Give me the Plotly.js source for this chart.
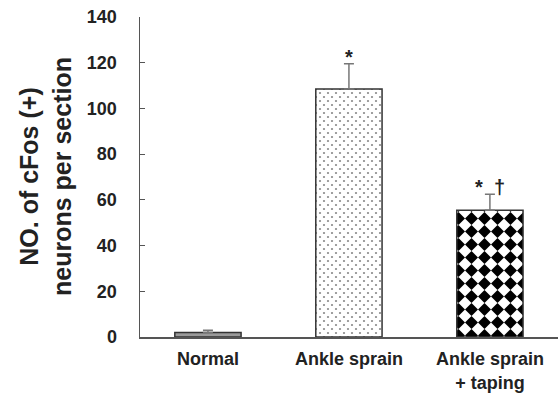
<!DOCTYPE html>
<html>
<head>
<meta charset="utf-8">
<script src="https://cdn.plot.ly/plotly-3.0.1.min.js"></script>
<style>html,body{margin:0;padding:0;background:#fff;}#chart{width:558px;height:394px;}</style>
</head>
<body>
<div id="chart"></div>
<script>
// ---- data ----
var categories = ['Normal', 'Ankle sprain', 'Ankle sprain<br>+ taping'];
var means = [2, 108.5, 55.5];
var errors = [1, 11, 7];
var signif = ['', '*', '*\u00a0\u00a0\u2020'];
var yTicks = [0, 20, 40, 60, 80, 100, 120, 140];

var FONT = 'Liberation Sans, Arial, sans-serif';
var ink = '#222';

var traces = [
  {x: [categories[0]], y: [means[0]], error_y: {type: 'data', symmetric: false, array: [errors[0]], arrayminus: [0], color: '#777', thickness: 1.5, width: 5},
   type: 'bar', width: 0.47, marker: {color: '#9a9a9a', line: {color: '#333', width: 1.5}}},
  {x: [categories[1]], y: [means[1]], error_y: {type: 'data', symmetric: false, array: [errors[1]], arrayminus: [0], color: '#777', thickness: 1.5, width: 5},
   type: 'bar', width: 0.47, marker: {color: '#ffffff', line: {color: '#333', width: 1.5},
     pattern: {shape: '.', fgcolor: '#8a8a8a', bgcolor: '#ffffff', size: 8, solidity: 0.06, fillmode: 'replace'}}},
  {x: [categories[2]], y: [means[2]], error_y: {type: 'data', symmetric: false, array: [errors[2]], arrayminus: [0], color: '#777', thickness: 1.5, width: 5},
   type: 'bar', width: 0.47, marker: {color: '#ffffff', line: {color: '#333', width: 1.5},
     pattern: {shape: '.', fgcolor: '#000000', bgcolor: '#ffffff', size: 13, solidity: 0.5, fillmode: 'replace'}}}
];

var annotations = [];
for (var i = 0; i < categories.length; i++) {
  if (signif[i]) {
    annotations.push({x: categories[i], y: means[i] + errors[i], xref: 'x', yref: 'y', text: signif[i],
      showarrow: false, yanchor: 'bottom', yshift: -6, font: {family: FONT, size: 20, color: ink, weight: 'bold'}});
  }
}
annotations.push({xref: 'paper', yref: 'paper', x: (45 - 140) / 418, y: 0.5, xanchor: 'center', yanchor: 'middle',
  textangle: -90, showarrow: false, text: 'NO. of cFos (+)<br>neurons per section',
  font: {family: FONT, size: 25, color: ink, weight: 'bold'}});

var layout = {
  width: 558, height: 394,
  margin: {l: 140, r: 0, t: 17, b: 57},
  paper_bgcolor: '#ffffff', plot_bgcolor: '#ffffff',
  showlegend: false,
  font: {family: FONT, color: ink},
  xaxis: {type: 'category', range: [-0.482, 2.483], showline: true, linecolor: '#555', linewidth: 1.5,
    ticks: '', showgrid: false, zeroline: false, ticklabelstandoff: 5,
    tickfont: {family: FONT, size: 18, color: ink, weight: 'bold'}},
  yaxis: {range: [0, 140], tickvals: yTicks, ticks: 'inside', ticklen: 5, tickcolor: '#555', tickwidth: 1.2,
    showline: true, linecolor: '#555', linewidth: 1.5, showgrid: false, zeroline: false, ticklabelstandoff: 18,
    tickfont: {family: FONT, size: 18, color: ink, weight: 'bold'}},
  annotations: annotations
};

Plotly.newPlot('chart', traces, layout, {displayModeBar: false, staticPlot: true}).then(function () {
  // reshape pattern tiles: staggered dots and diamond checker
  var pats = document.querySelectorAll('#chart pattern');
  var NS = 'http://www.w3.org/2000/svg';
  pats.forEach(function (p) {
    var c = p.querySelector('circle');
    if (!c) return;
    var fill = (c.getAttribute('fill') || c.style.fill || '').replace(/\s/g, '');
    var s = parseFloat(p.getAttribute('width'));
    if (fill === 'rgb(0,0,0)' || fill === '#000000' || fill === 'black') {
      var d = document.createElementNS(NS, 'path');
      d.setAttribute('d', 'M' + s / 2 + ',0L' + s + ',' + s / 2 + 'L' + s / 2 + ',' + s + 'L0,' + s / 2 + 'Z');
      d.setAttribute('fill', '#000');
      c.parentNode.replaceChild(d, c);
    } else {
      var r = c.getAttribute('r');
      [[0, 0], [s, 0], [0, s], [s, s]].forEach(function (pt) {
        var cc = document.createElementNS(NS, 'circle');
        cc.setAttribute('cx', pt[0]); cc.setAttribute('cy', pt[1]); cc.setAttribute('r', r);
        cc.setAttribute('fill', c.getAttribute('fill') || '#8a8a8a');
        p.appendChild(cc);
      });
    }
  });
});
</script>
</body>
</html>
